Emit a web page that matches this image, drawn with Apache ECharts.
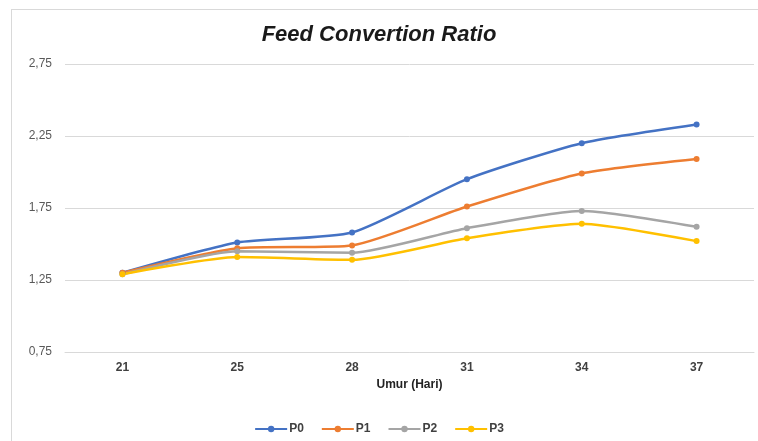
<!DOCTYPE html>
<html>
<head>
<meta charset="utf-8">
<script src="https://cdn.jsdelivr.net/npm/echarts@6/dist/echarts.min.js"></script>
<style>
  html, body { margin: 0; padding: 0; background: #ffffff; }
  #frame { position: absolute; left: 11px; top: 9px; width: 760px; height: 440px; border: 1px solid #d9d9d9; box-sizing: border-box; }
  #chart { width: 758px; height: 441px; }
</style>
</head>
<body>
<div id="frame"></div>
<div id="chart"></div>
<script>
// Age in days
const days = ['21', '25', '28', '31', '34', '37'];
// Feed conversion ratio per treatment
const p0 = [1.30, 1.51, 1.58, 1.95, 2.20, 2.33];
const p1 = [1.30, 1.47, 1.49, 1.76, 1.99, 2.09];
const p2 = [1.29, 1.45, 1.44, 1.61, 1.73, 1.62];
const p3 = [1.29, 1.41, 1.39, 1.54, 1.64, 1.52];
const seriesNames = ['P0', 'P1', 'P2', 'P3'];
const seriesData = [p0, p1, p2, p3];
const colors = ['#4472c4', '#ed7d31', '#a5a5a5', '#ffc000'];

const chart = echarts.init(document.getElementById('chart'));
chart.setOption({
  animation: false,
  color: colors,
  title: {
    text: 'Feed Convertion Ratio',
    left: 'center',
    top: 19,
    textStyle: { fontFamily: 'Liberation Sans, Arial', fontSize: 22, fontWeight: 'bold', fontStyle: 'italic', color: '#1a1a1a' }
  },
  legend: {
    bottom: 1,
    left: 'center',
    itemWidth: 32,
    itemHeight: 8,
    itemGap: 17,
    textStyle: { fontFamily: 'Liberation Sans, Arial', fontSize: 12, fontWeight: 'bold', color: '#404040', padding: [0, 0, 0, -3] },
    data: seriesNames
  },
  grid: { left: 65, right: 4, top: 64, bottom: 89 },
  xAxis: {
    type: 'category',
    data: days,
    boundaryGap: true,
    name: 'Umur (Hari)',
    nameLocation: 'middle',
    nameGap: 27,
    nameTextStyle: { fontFamily: 'Liberation Sans, Arial', fontSize: 12, fontWeight: 'bold', color: '#222' },
    axisLine: { show: true, lineStyle: { color: '#d9d9d9' } },
    axisTick: { show: false },
    axisLabel: { fontFamily: 'Liberation Sans, Arial', fontSize: 12, fontWeight: 'bold', color: '#404040', margin: 10 }
  },
  yAxis: {
    type: 'value',
    min: 0.75,
    max: 2.75,
    interval: 0.5,
    axisLine: { show: false },
    axisTick: { show: false },
    splitLine: { lineStyle: { color: '#d9d9d9' } },
    axisLabel: {
      fontFamily: 'Liberation Sans, Arial', fontSize: 12, color: '#595959', margin: 13,
      formatter: v => v.toFixed(2).replace('.', ',')
    }
  },
  series: seriesNames.map((n, i) => ({
    name: n,
    type: 'line',
    data: seriesData[i],
    smooth: 0.2,
    symbol: 'circle',
    symbolSize: 6,
    lineStyle: { width: 2.5 },
    itemStyle: { color: colors[i] }
  }))
});
</script>
</body>
</html>
